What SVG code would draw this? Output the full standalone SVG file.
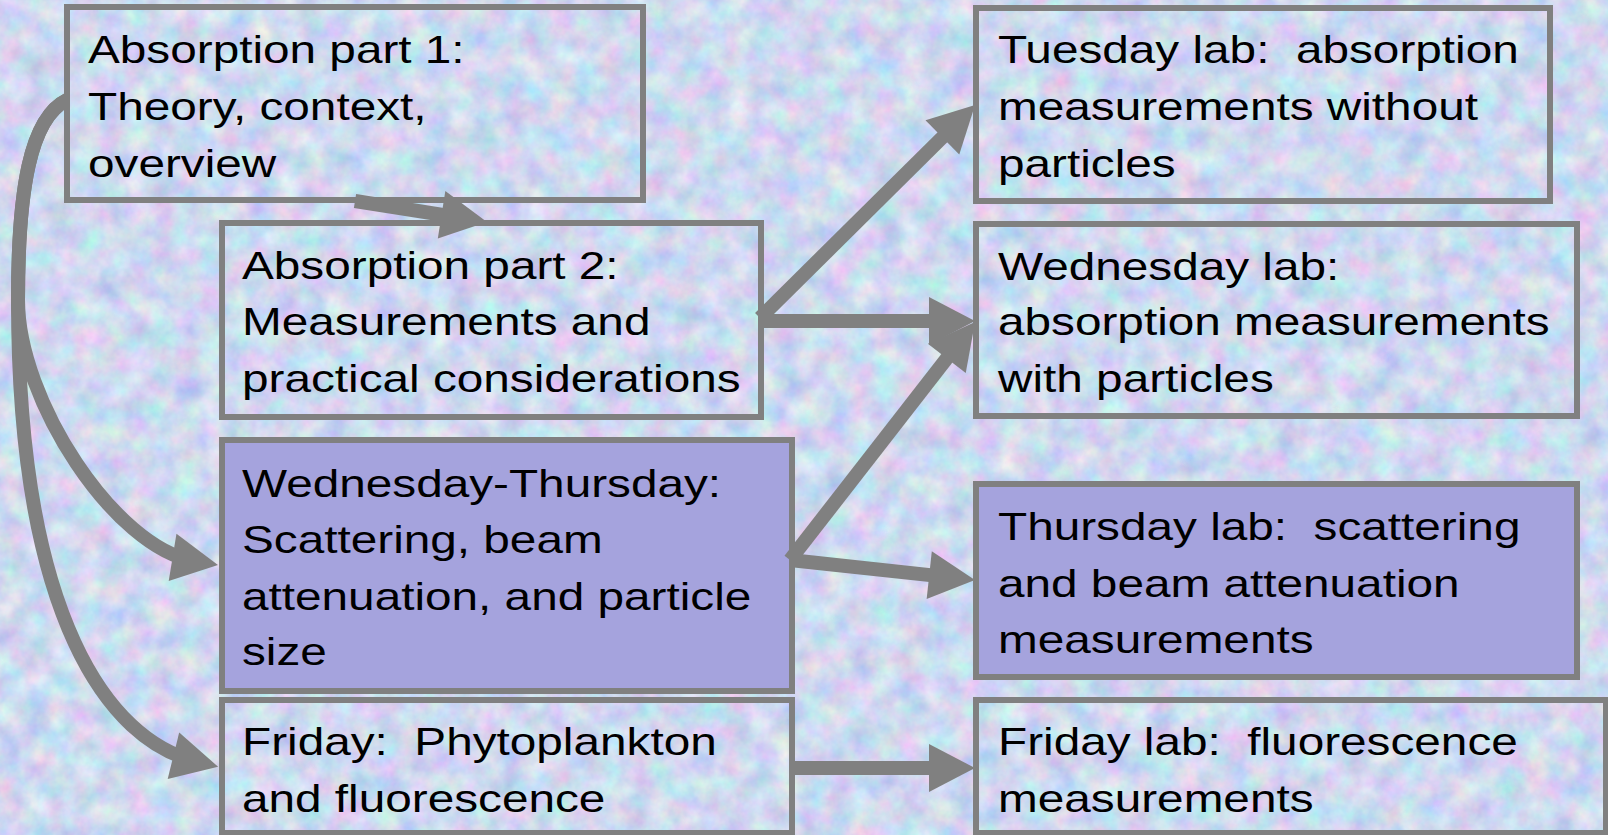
<svg xmlns="http://www.w3.org/2000/svg" width="1608" height="835" viewBox="0 0 1608 835">
  <style>
    .box { fill: none; stroke: #808080; stroke-width: 6; }
    .box.hl { fill: #a5a3dd; }
    .lbl { font-family: "Liberation Sans", Arial, sans-serif; font-size: 39.5px; fill: #000; white-space: pre; }
    .conn { fill: none; stroke: #808080; stroke-width: 14; stroke-linecap: butt; }
  </style>
  <defs>
    <filter id="tex" x="0" y="0" width="100%" height="100%" color-interpolation-filters="sRGB">
      <feTurbulence type="fractalNoise" baseFrequency="0.04" numOctaves="4" seed="7" result="n"/>
      <feColorMatrix in="n" type="matrix" values="0.38 0 0 0 0.62  0 0.3 0 0 0.70  0 0 0.14 0 0.87  0 0 0 0 1"/>
    </filter>
    <marker id="head" markerUnits="userSpaceOnUse" markerWidth="48" markerHeight="48" refX="22" refY="24" orient="auto" overflow="visible">
      <path d="M0,0 L46,24 L0,48 Z" fill="#808080"/>
    </marker>
  </defs>

  <rect id="background" x="0" y="0" width="1608" height="835" fill="#cdd9f3"/>
  <rect x="0" y="0" width="1608" height="835" filter="url(#tex)"/>

  <g id="n1">
    <rect class="box" x="67" y="7" width="576" height="193"/>
    <text class="lbl" transform="translate(88,0) scale(1.208,1)"><tspan x="0" y="63">Absorption part 1:</tspan><tspan x="0" y="120">Theory, context,</tspan><tspan x="0" y="177">overview</tspan></text>
  </g>
  <g id="n2">
    <rect class="box" x="222" y="223" width="539" height="194"/>
    <text class="lbl" transform="translate(242,0) scale(1.208,1)"><tspan x="0" y="279">Absorption part 2:</tspan><tspan x="0" y="335">Measurements and</tspan><tspan x="0" y="392">practical considerations</tspan></text>
  </g>
  <g id="n3">
    <rect class="box hl" x="222" y="440" width="570" height="251"/>
    <text class="lbl" transform="translate(242,0) scale(1.208,1)"><tspan x="0" y="497">Wednesday-Thursday:</tspan><tspan x="0" y="553">Scattering, beam</tspan><tspan x="0" y="610">attenuation, and particle</tspan><tspan x="0" y="665">size</tspan></text>
  </g>
  <g id="n4">
    <rect class="box" x="222" y="700" width="570" height="133"/>
    <text class="lbl" transform="translate(242,0) scale(1.208,1)"><tspan x="0" y="755">Friday:  Phytoplankton</tspan><tspan x="0" y="812">and fluorescence</tspan></text>
  </g>
  <g id="n5">
    <rect class="box" x="976" y="8" width="574" height="193"/>
    <text class="lbl" transform="translate(998,0) scale(1.208,1)"><tspan x="0" y="63">Tuesday lab:  absorption</tspan><tspan x="0" y="120">measurements without</tspan><tspan x="0" y="177">particles</tspan></text>
  </g>
  <g id="n6">
    <rect class="box" x="976" y="224" width="601" height="192"/>
    <text class="lbl" transform="translate(998,0) scale(1.208,1)"><tspan x="0" y="280">Wednesday lab:</tspan><tspan x="0" y="335">absorption measurements</tspan><tspan x="0" y="392">with particles</tspan></text>
  </g>
  <g id="n7">
    <rect class="box hl" x="976" y="484" width="601" height="193"/>
    <text class="lbl" transform="translate(998,0) scale(1.208,1)"><tspan x="0" y="540">Thursday lab:  scattering</tspan><tspan x="0" y="597">and beam attenuation</tspan><tspan x="0" y="653">measurements</tspan></text>
  </g>
  <g id="n8">
    <rect class="box" x="976" y="700" width="630" height="133"/>
    <text class="lbl" transform="translate(998,0) scale(1.208,1)"><tspan x="0" y="755">Friday lab:  fluorescence</tspan><tspan x="0" y="812">measurements</tspan></text>
  </g>

  <g id="connectors">
    <path class="conn" d="M355,201 L463.3,218.2" marker-end="url(#head)"/>
    <path class="conn" d="M760,318 L958,121.9" marker-end="url(#head)"/>
    <path class="conn" d="M760,321 L951,321" marker-end="url(#head)"/>
    <path class="conn" d="M790,560 L960.3,341" marker-end="url(#head)"/>
    <path class="conn" d="M790,560 L951.1,577.4" marker-end="url(#head)"/>
    <path class="conn" d="M792,768 L951,768" marker-end="url(#head)"/>
    <path class="conn" d="M67,100 C30,118 18,190 18,300 C18,400 115,548 194.3,561" marker-end="url(#head)"/>
    <path class="conn" d="M67,100 C30,118 18,190 18,300 C18,620 110,740 194.8,761" marker-end="url(#head)"/>
  </g>
</svg>
